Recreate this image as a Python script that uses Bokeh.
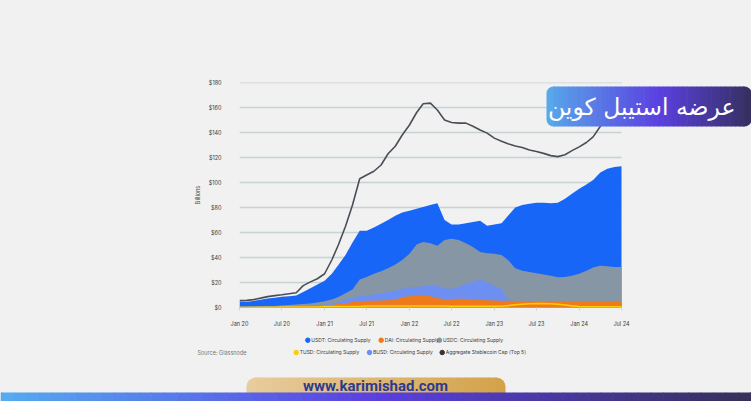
import pandas as pd
from bokeh.plotting import figure
from bokeh.layouts import column
from bokeh.models import (FixedTicker, DatetimeTickFormatter, PrintfTickFormatter, Legend, LegendItem,
                          Label, BoxAnnotation, Range1d, ColumnDataSource)
from bokeh.embed import file_html
from bokeh.resources import INLINE

# ---------------- data (billions USD, monthly Jan 2020 .. Jul 2024) ----------------
month_start = "2020-01-01"
n_months = 55
usdt = [4.6, 4.7, 5.3, 6.2, 7.2, 7.8, 8.6, 9.0, 9.6, 12.5, 15.5, 18.5, 21.5, 27.0, 34.0, 42.0, 52.0, 61.5,
        61.5, 64.0, 67.0, 70.0, 73.5, 76.0, 77.5, 79.0, 80.5, 82.0, 83.5, 70.0, 66.5, 66.5, 67.5, 68.5, 69.5,
        65.5, 66.5, 67.5, 73.5, 80.0, 82.0, 83.0, 83.8, 83.8, 83.5, 83.8, 87.0, 91.0, 95.0, 98.5, 102.0,
        108.0, 111.0, 112.5, 113.0]
usdc = [0.5, 0.6, 0.8, 1.0, 1.2, 1.3, 1.6, 2.0, 2.5, 2.8, 3.2, 4.0, 5.0, 6.5, 8.5, 11.5, 14.5, 22.5, 24.5,
        27.0, 29.0, 31.5, 34.5, 38.0, 43.0, 50.5, 52.5, 51.5, 49.5, 54.0, 55.0, 54.0, 51.5, 48.5, 44.5, 43.5,
        43.0, 42.0, 38.0, 31.5, 29.5, 28.5, 27.5, 26.5, 25.5, 24.3, 24.5, 25.5, 27.0, 29.5, 32.0, 33.5, 33.0,
        32.5, 32.4]
busd = [0.2, 0.2, 0.3, 0.3, 0.3, 0.4, 0.5, 0.6, 0.8, 1.0, 1.2, 1.5, 2.2, 3.0, 4.5, 6.5, 8.0, 9.0, 9.5, 10.5,
        11.5, 12.5, 13.5, 15.0, 16.0, 16.5, 17.0, 17.5, 17.5, 15.2, 15.0, 16.5, 19.0, 20.5, 22.5, 20.5, 17.0,
        15.0, 6.0, 5.0, 4.5, 4.0, 3.5, 3.0, 2.5, 2.0, 1.8, 1.5, 1.3, 1.0, 0.9, 0.8, 0.7, 0.6, 0.6]
dai = [0.1, 0.1, 0.1, 0.1, 0.2, 0.2, 0.3, 0.5, 0.8, 0.9, 1.0, 1.2, 1.5, 2.0, 2.8, 3.5, 4.5, 5.0, 5.4, 5.4,
       5.6, 5.8, 6.0, 8.5, 9.0, 9.2, 9.5, 9.0, 7.5, 6.8, 6.8, 7.0, 7.0, 6.5, 6.0, 5.8, 5.7, 5.5, 5.5, 5.3,
       5.0, 5.0, 4.8, 4.7, 4.6, 4.8, 5.0, 5.2, 5.3, 5.3, 5.0, 5.2, 5.2, 5.1, 5.0]
tusd = [0.2, 0.2, 0.2, 0.2, 0.2, 0.2, 0.4, 0.4, 0.4, 0.4, 0.4, 0.4, 0.8, 0.8, 0.8, 0.8, 0.8, 0.8, 1.2, 1.2,
        1.2, 1.2, 1.2, 1.2, 1.2, 1.2, 1.2, 1.2, 1.2, 1.2, 1.0, 1.0, 1.0, 1.0, 1.0, 1.0, 1.0, 1.0, 1.5, 2.2,
        2.6, 3.0, 3.2, 3.1, 3.0, 2.6, 2.0, 1.3, 0.8, 0.5, 0.5, 0.5, 0.5, 0.5, 0.5]
aggregate = [5.5, 5.7, 6.3, 7.5, 8.7, 9.5, 10.2, 11.0, 11.8, 17.5, 20.5, 23.0, 27.0, 38.0, 50.0, 65.0, 82.0,
             103.0, 106.0, 109.0, 114.0, 123.0, 129.0, 138.0, 146.0, 156.0, 163.0, 163.5, 158.0, 150.0, 148.0,
             147.5, 147.5, 145.0, 142.0, 139.5, 135.5, 133.0, 131.0, 129.2, 128.0, 126.0, 124.8, 123.3, 121.5,
             120.7, 122.2, 125.5, 128.5, 132.0, 136.5, 145.0, 152.0, 157.0, 160.0]
tick_dates = ["2020-01-01", "2020-07-01", "2021-01-01", "2021-07-01", "2022-01-01", "2022-07-01",
              "2023-01-01", "2023-07-01", "2024-01-01", "2024-07-01"]
y_ticks = [0, 20, 40, 60, 80, 100, 120, 140, 160, 180]
series_names = ["USDT: Circulating Supply", "DAI: Circulating Supply", "USDC: Circulating Supply",
                "TUSD: Circulating Supply", "BUSD: Circulating Supply", "Aggregate Stablecoin Cap (Top 5)"]
title_text = "عرضه استیبل کوین"
source_text = "Source: Glassnode"
footer_text = "www.karimishad.com"

# ---------------- styling ----------------
C_USDT = "#1866f8"
C_USDC = "#8796a5"
C_BUSD = "#6d8ff2"
C_DAI = "#ef7a1c"
C_TUSD = "#ffcc00"
C_AGG = "#4a4e57"
BG = "#f1f1f1"
FONT = "Inter"
TXT = "#3a3a3a"

W = 751
H1, H2 = 332, 69                # chart figure / footer figure
FL, FT, FB = 239, 82, 307       # frame left / top / bottom (chart figure)
X_END_PX = 621                  # where Jul 24 sits

dates = pd.date_range(month_start, periods=n_months, freq="MS")
src = ColumnDataSource(dict(date=dates, usdt=usdt, usdc=usdc, busd=busd, dai=dai, tusd=tusd, agg=aggregate))

t0 = pd.Timestamp(dates[0]).value // 10**6
t1 = pd.Timestamp(dates[-1]).value // 10**6
x_end = t0 + (t1 - t0) * (W - FL) / (X_END_PX - FL)

p = figure(width=W, height=H1, x_axis_type="datetime", output_backend="svg", toolbar_location=None,
           x_range=Range1d(t0, x_end), y_range=Range1d(0, 180),
           min_border_left=FL, min_border_right=0, min_border_top=FT, min_border_bottom=H1 - FB)
p.frame_align = False
p.background_fill_color = BG
p.border_fill_color = BG
p.outline_line_color = None
p.styles = {"background-color": BG}

# horizontal grid lines, limited to the data span
p.segment(x0=[dates[0]] * len(y_ticks), x1=[dates[-1]] * len(y_ticks), y0=y_ticks, y1=y_ticks,
          line_color="#c8d2d2", line_width=1.3, level="underlay")

p.varea(x="date", y1=0, y2="usdt", source=src, fill_color=C_USDT)
p.varea(x="date", y1=0, y2="usdc", source=src, fill_color=C_USDC)
p.varea(x="date", y1=0, y2="busd", source=src, fill_color=C_BUSD)
p.varea(x="date", y1=0, y2="dai", source=src, fill_color=C_DAI)
p.line(x="date", y="tusd", source=src, line_color=C_TUSD, line_width=1.6)
p.line(x="date", y="agg", source=src, line_color=C_AGG, line_width=1.6)

# axes
tick_ms = [pd.Timestamp(d).value // 10**6 for d in tick_dates]
p.xaxis.ticker = FixedTicker(ticks=tick_ms)
fmt = "%b %y"
p.xaxis.formatter = DatetimeTickFormatter(days=fmt, months=fmt, years=fmt, hours=fmt, minutes=fmt)
p.yaxis.ticker = FixedTicker(ticks=y_ticks)
p.yaxis.formatter = PrintfTickFormatter(format="$%d")
for ax in (p.xaxis[0], p.yaxis[0]):
    ax.axis_line_color = None
    ax.minor_tick_line_color = None
    ax.major_label_text_font = FONT
    ax.major_label_text_font_size = "5.5px"
    ax.major_label_text_color = TXT
p.yaxis.major_tick_line_color = None
p.yaxis.major_label_standoff = 12
p.xaxis.major_tick_line_color = "#d2d2d2"
p.xaxis.major_tick_out = 3
p.xaxis.major_tick_in = 0
p.xaxis.major_label_standoff = 10
p.yaxis.axis_label = "Billions"
p.yaxis.axis_label_text_font = FONT
p.yaxis.axis_label_text_font_size = "5.5px"
p.yaxis.axis_label_text_font_style = "normal"
p.yaxis.axis_label_text_color = TXT
p.yaxis.axis_label_standoff = 5
p.grid.visible = False


def hex2rgb(h):
    h = h.lstrip("#")
    return tuple(int(h[i:i + 2], 16) for i in (0, 2, 4))


def grad(stops, t):
    for (a0, c0), (a1, c1) in zip(stops, stops[1:]):
        if t <= a1:
            f = (t - a0) / (a1 - a0) if a1 > a0 else 0
            a, b = hex2rgb(c0), hex2rgb(c1)
            return "#%02x%02x%02x" % tuple(round(a[i] + (b[i] - a[i]) * f) for i in range(3))
    return stops[-1][1]


def gradient_box(fig, sx, sy, x0, x1, y0, y1, stops, radius=(0, 0, 0, 0), n=40):
    kw = dict(left_units="screen", right_units="screen", top_units="screen", bottom_units="screen",
              fill_alpha=1, line_color=None, level="overlay")
    cap = max(max(radius), 1) * 2
    fig.add_layout(BoxAnnotation(left=sx(x0), right=sx(x0 + cap), top=sy(y0), bottom=sy(y1),
                                 fill_color=grad(stops, 0), border_radius=radius, **kw))
    fig.add_layout(BoxAnnotation(left=sx(x1 - cap), right=sx(x1), top=sy(y0), bottom=sy(y1),
                                 fill_color=grad(stops, 1), border_radius=radius, **kw))
    a, b = x0 + cap / 2, x1 - cap / 2
    step = (b - a) / n
    for i in range(n):
        l = a + i * step
        r = min(l + step + 0.6, b)
        t = ((l + step / 2) - x0) / (x1 - x0)
        fig.add_layout(BoxAnnotation(left=sx(l), right=sx(r), top=sy(y0), bottom=sy(y1),
                                     fill_color=grad(stops, t), **kw))


# title banner (inside the chart frame)
def sx1(x):
    return x - FL


def sy1(y):
    return FB - y


gradient_box(p, sx1, sy1, 546, 751, 86, 126, [(0, "#58a8ea"), (0.55, "#5a40e0"), (1, "#353060")],
             radius=(7, 7, 7, 7), n=40)
p.add_layout(Label(x=sx1(735), y=sy1(106), x_units="screen", y_units="screen", text=title_text,
                   text_font="DejaVu Sans", text_font_size="23.5px", text_color="white",
                   text_align="right", text_baseline="middle", level="overlay"))

# ---------------- footer figure: legend, source, site pill, bar ----------------
q = figure(width=W, height=H2, output_backend="svg", toolbar_location=None,
           x_range=Range1d(0, W), y_range=Range1d(0, H2), x_axis_location=None, y_axis_location=None,
           min_border=0)
q.frame_align = False
q.background_fill_color = BG
q.border_fill_color = BG
q.outline_line_color = None
q.grid.visible = False
q.styles = {"background-color": BG}


def sx2(x):
    return x


def sy2(y):
    return H1 + H2 - y


# legend: one entry per legend box, each placed where the reference puts it
legend_colors = [C_USDT, C_DAI, C_USDC, C_TUSD, C_BUSD, "#2f3440"]
legend_pos = [(307.3, 339.7), (380.7, 339.7), (439.0, 339.7),
              (295.7, 352.0), (369.0, 352.0), (441.7, 352.0)]
GW = 6
for name, col, (cx, cy) in zip(series_names, legend_colors, legend_pos):
    dot = q.scatter(x=[sx2(cx)], y=[sy2(cy)], color=col, size=4.5)
    lg = Legend(items=[LegendItem(label=name, renderers=[dot])],
                location=(sx2(cx) - GW / 2, sy2(cy) - GW / 2),
                glyph_width=GW, glyph_height=GW, label_height=GW, label_standoff=1,
                padding=0, margin=0, background_fill_alpha=0, border_line_alpha=0,
                label_text_font=FONT, label_text_font_size="5px", label_text_color=TXT)
    q.add_layout(lg)

q.add_layout(Label(x=sx2(197), y=sy2(352), x_units="screen", y_units="screen", text=source_text,
                   text_font=FONT, text_font_size="5.5px", text_color="#777777", text_baseline="middle"))

gradient_box(q, sx2, sy2, 246, 505, 377, 393, [(0, "#e7cc9e"), (1, "#d3a24a")], radius=(9, 9, 0, 0), n=30)
q.add_layout(Label(x=sx2(375), y=sy2(385), x_units="screen", y_units="screen", text=footer_text,
                   text_font="Roboto", text_font_size="15px", text_font_style="bold", text_color="#2c3a8e",
                   text_align="center", text_baseline="middle", level="overlay"))
gradient_box(q, sx2, sy2, 0, 751, 392, 401, [(0, "#55acf0"), (0.5, "#5a3fe0"), (1, "#353058")], n=60)

layout = column(p, q, spacing=0)
layout.styles = {"background-color": BG}
open("out.html", "w").write(file_html(layout, INLINE))
